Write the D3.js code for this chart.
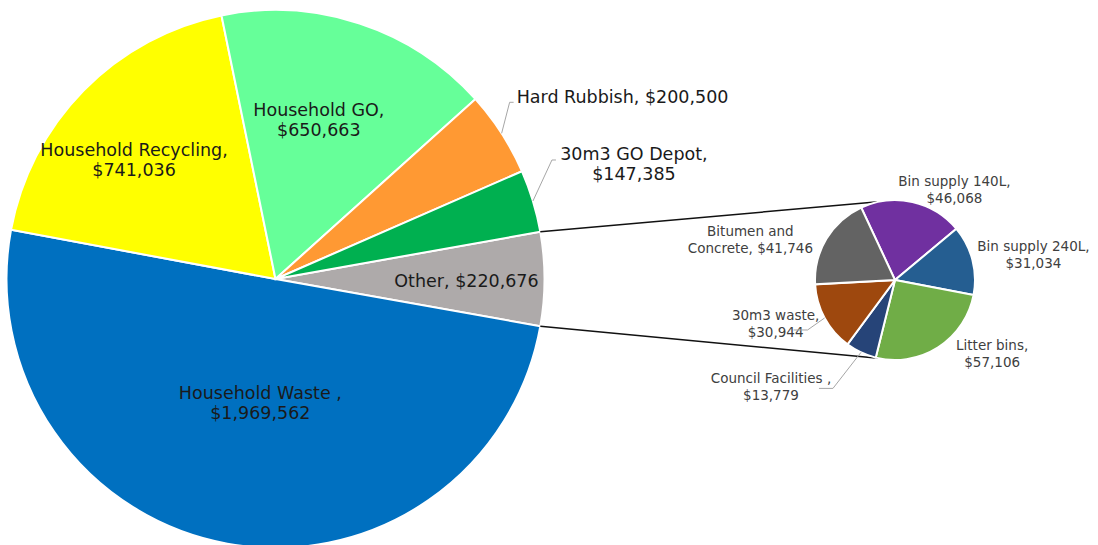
<!DOCTYPE html>
<meta charset="utf-8">
<style>
  body { margin: 0; background: #fff; }
  .main-label { font-family: 'DejaVu Sans', sans-serif; font-size: 17.5px; fill: #1a1a1a; }
  .sub-label { font-family: 'DejaVu Sans', sans-serif; font-size: 13.5px; fill: #404040; }
</style>
<script src="https://d3js.org/d3.v7.min.js"></script>
<div id="chart"></div>
<script>
// main pie, "Other" first so it can sit on the right
var mainNames = ["Other", "Household Waste ", "Household Recycling", "Household GO", "Hard Rubbish", "30m3 GO Depot"];
var mainValues = [220676, 1969562, 741036, 650663, 200500, 147385];
var mainColors = ["#aeaaaa", "#0070c0", "#ffff00", "#66ff99", "#ff9933", "#00b050"];

// breakdown of "Other"
var subNames = ["Bin supply 140L", "Bin supply 240L", "Litter bins", "Council Facilities ", "30m3 waste", "Bitumen and Concrete"];
var subValues = [46068, 31034, 57106, 13779, 30944, 41746];
var subColors = ["#7030a0", "#255e91", "#70ad47", "#264478", "#9e480e", "#636363"];

var W = 1098, H = 545;
var svg = d3.select("#chart").append("svg")
    .attr("width", W).attr("height", H);

var fmt = d3.format("$,");
var deg = Math.PI / 180;

// ---- big pie
var cx = 275.5, cy = 279, R = 269;
var mainTotal = d3.sum(mainValues);
var otherHalf = mainValues[0] / mainTotal * Math.PI;
var pieMain = d3.pie().sort(null).value(function(d) { return d; })
    .startAngle(Math.PI / 2 - otherHalf)
    .endAngle(Math.PI / 2 - otherHalf + 2 * Math.PI);
var arcsMain = pieMain(mainValues);
var arcMain = d3.arc().innerRadius(0).outerRadius(R);

var gMain = svg.append("g").attr("transform", "translate(" + cx + "," + cy + ")");
gMain.selectAll("path").data(arcsMain).enter().append("path")
    .attr("d", arcMain)
    .attr("fill", function(d, i) { return mainColors[i]; })
    .attr("stroke", "#fff").attr("stroke-width", 2);

function pt(a, r) { return [r * Math.sin(a), -r * Math.cos(a)]; }
function mid(d) { return (d.startAngle + d.endAngle) / 2; }

// label placement: radius fraction, offset, anchor, line break, leader
var mainPlace = [
  {k: 0.71, dx: 0, dy: 2, lines: 1},
  {k: 0.46, dx: 7, dy: 2, lines: 2},
  {k: 0.69, dx: -9, dy: 11, lines: 2},
  {k: 0.61, dx: -8, dy: -3, lines: 2},
  {k: 1, dx: 15, dy: -36, lines: 1, anchor: "start", leader: [8, -31]},
  {k: 1, dx: 101, dy: -37, lines: 2, leader: [19, -41]}
];

arcsMain.forEach(function(d, i) {
  var p = mainPlace[i];
  var e = pt(mid(d), R * p.k);
  var x = e[0] + p.dx, y = e[1] + p.dy;
  var t = gMain.append("text").attr("class", "main-label")
      .attr("text-anchor", p.anchor || "middle");
  if (p.lines === 1) {
    t.append("tspan").attr("x", x).attr("y", y).attr("dy", "0.35em")
      .text(mainNames[i] + ", " + fmt(mainValues[i]));
  } else {
    t.append("tspan").attr("x", x).attr("y", y - 10).attr("dy", "0.35em").text(mainNames[i] + ",");
    t.append("tspan").attr("x", x).attr("y", y + 10).attr("dy", "0.35em").text(fmt(mainValues[i]));
  }
  if (p.leader) {
    var l1 = [e[0] + p.leader[0], e[1] + p.leader[1]];
    gMain.append("path")
      .attr("d", d3.line()([e, l1, [l1[0] + 4, l1[1]]]))
      .attr("fill", "none").attr("stroke", "#a6a6a6").attr("stroke-width", 1);
  }
});

// ---- small pie
var sx = 895, sy = 280, r = 80;
var pieSub = d3.pie().sort(null).value(function(d) { return d; })
    .startAngle(-25 * deg).endAngle(335 * deg);
var arcsSub = pieSub(subValues);
var arcSub = d3.arc().innerRadius(0).outerRadius(r);

// connector lines from the edges of "Other" to the small pie
var otherArc = arcsMain[0];
var topA = pt(otherArc.startAngle, R), botA = pt(otherArc.endAngle, R);
var topB = pt(-12 * deg, r), botB = pt(192 * deg, r);
svg.append("line")
    .attr("x1", cx + topA[0]).attr("y1", cy + topA[1])
    .attr("x2", sx + topB[0]).attr("y2", sy + topB[1])
    .attr("stroke", "#111").attr("stroke-width", 1.5);
svg.append("line")
    .attr("x1", cx + botA[0]).attr("y1", cy + botA[1])
    .attr("x2", sx + botB[0]).attr("y2", sy + botB[1])
    .attr("stroke", "#111").attr("stroke-width", 1.5);

var gSub = svg.append("g").attr("transform", "translate(" + sx + "," + sy + ")");
gSub.selectAll("path").data(arcsSub).enter().append("path")
    .attr("d", arcSub)
    .attr("fill", function(d, i) { return subColors[i]; })
    .attr("stroke", "#fff").attr("stroke-width", 2);

var subPlace = [
  {dx: 42, dy: -12},
  {dx: 61, dy: -5},
  {dx: 54, dy: 6},
  {dx: -90, dy: 34, leader: [-28, 36]},
  {dx: -49, dy: 6, leader: [-17, 12]},
  {dx: -76, dy: 1, first: "Bitumen and", second: "Concrete, "}
];

arcsSub.forEach(function(d, i) {
  var p = subPlace[i];
  var e = pt(mid(d), r);
  var x = e[0] + p.dx, y = e[1] + p.dy;
  var l1 = p.first || (subNames[i] + ",");
  var l2 = (p.second || "") + fmt(subValues[i]);
  var t = gSub.append("text").attr("class", "sub-label").attr("text-anchor", "middle");
  t.append("tspan").attr("x", x).attr("y", y - 8.5).attr("dy", "0.35em").text(l1);
  t.append("tspan").attr("x", x).attr("y", y + 8.5).attr("dy", "0.35em").text(l2);
  if (p.leader) {
    var q = [e[0] + p.leader[0], e[1] + p.leader[1]];
    gSub.append("path")
      .attr("d", d3.line()([e, q, [q[0] - 14, q[1]]]))
      .attr("fill", "none").attr("stroke", "#a6a6a6").attr("stroke-width", 1);
  }
});
</script>
